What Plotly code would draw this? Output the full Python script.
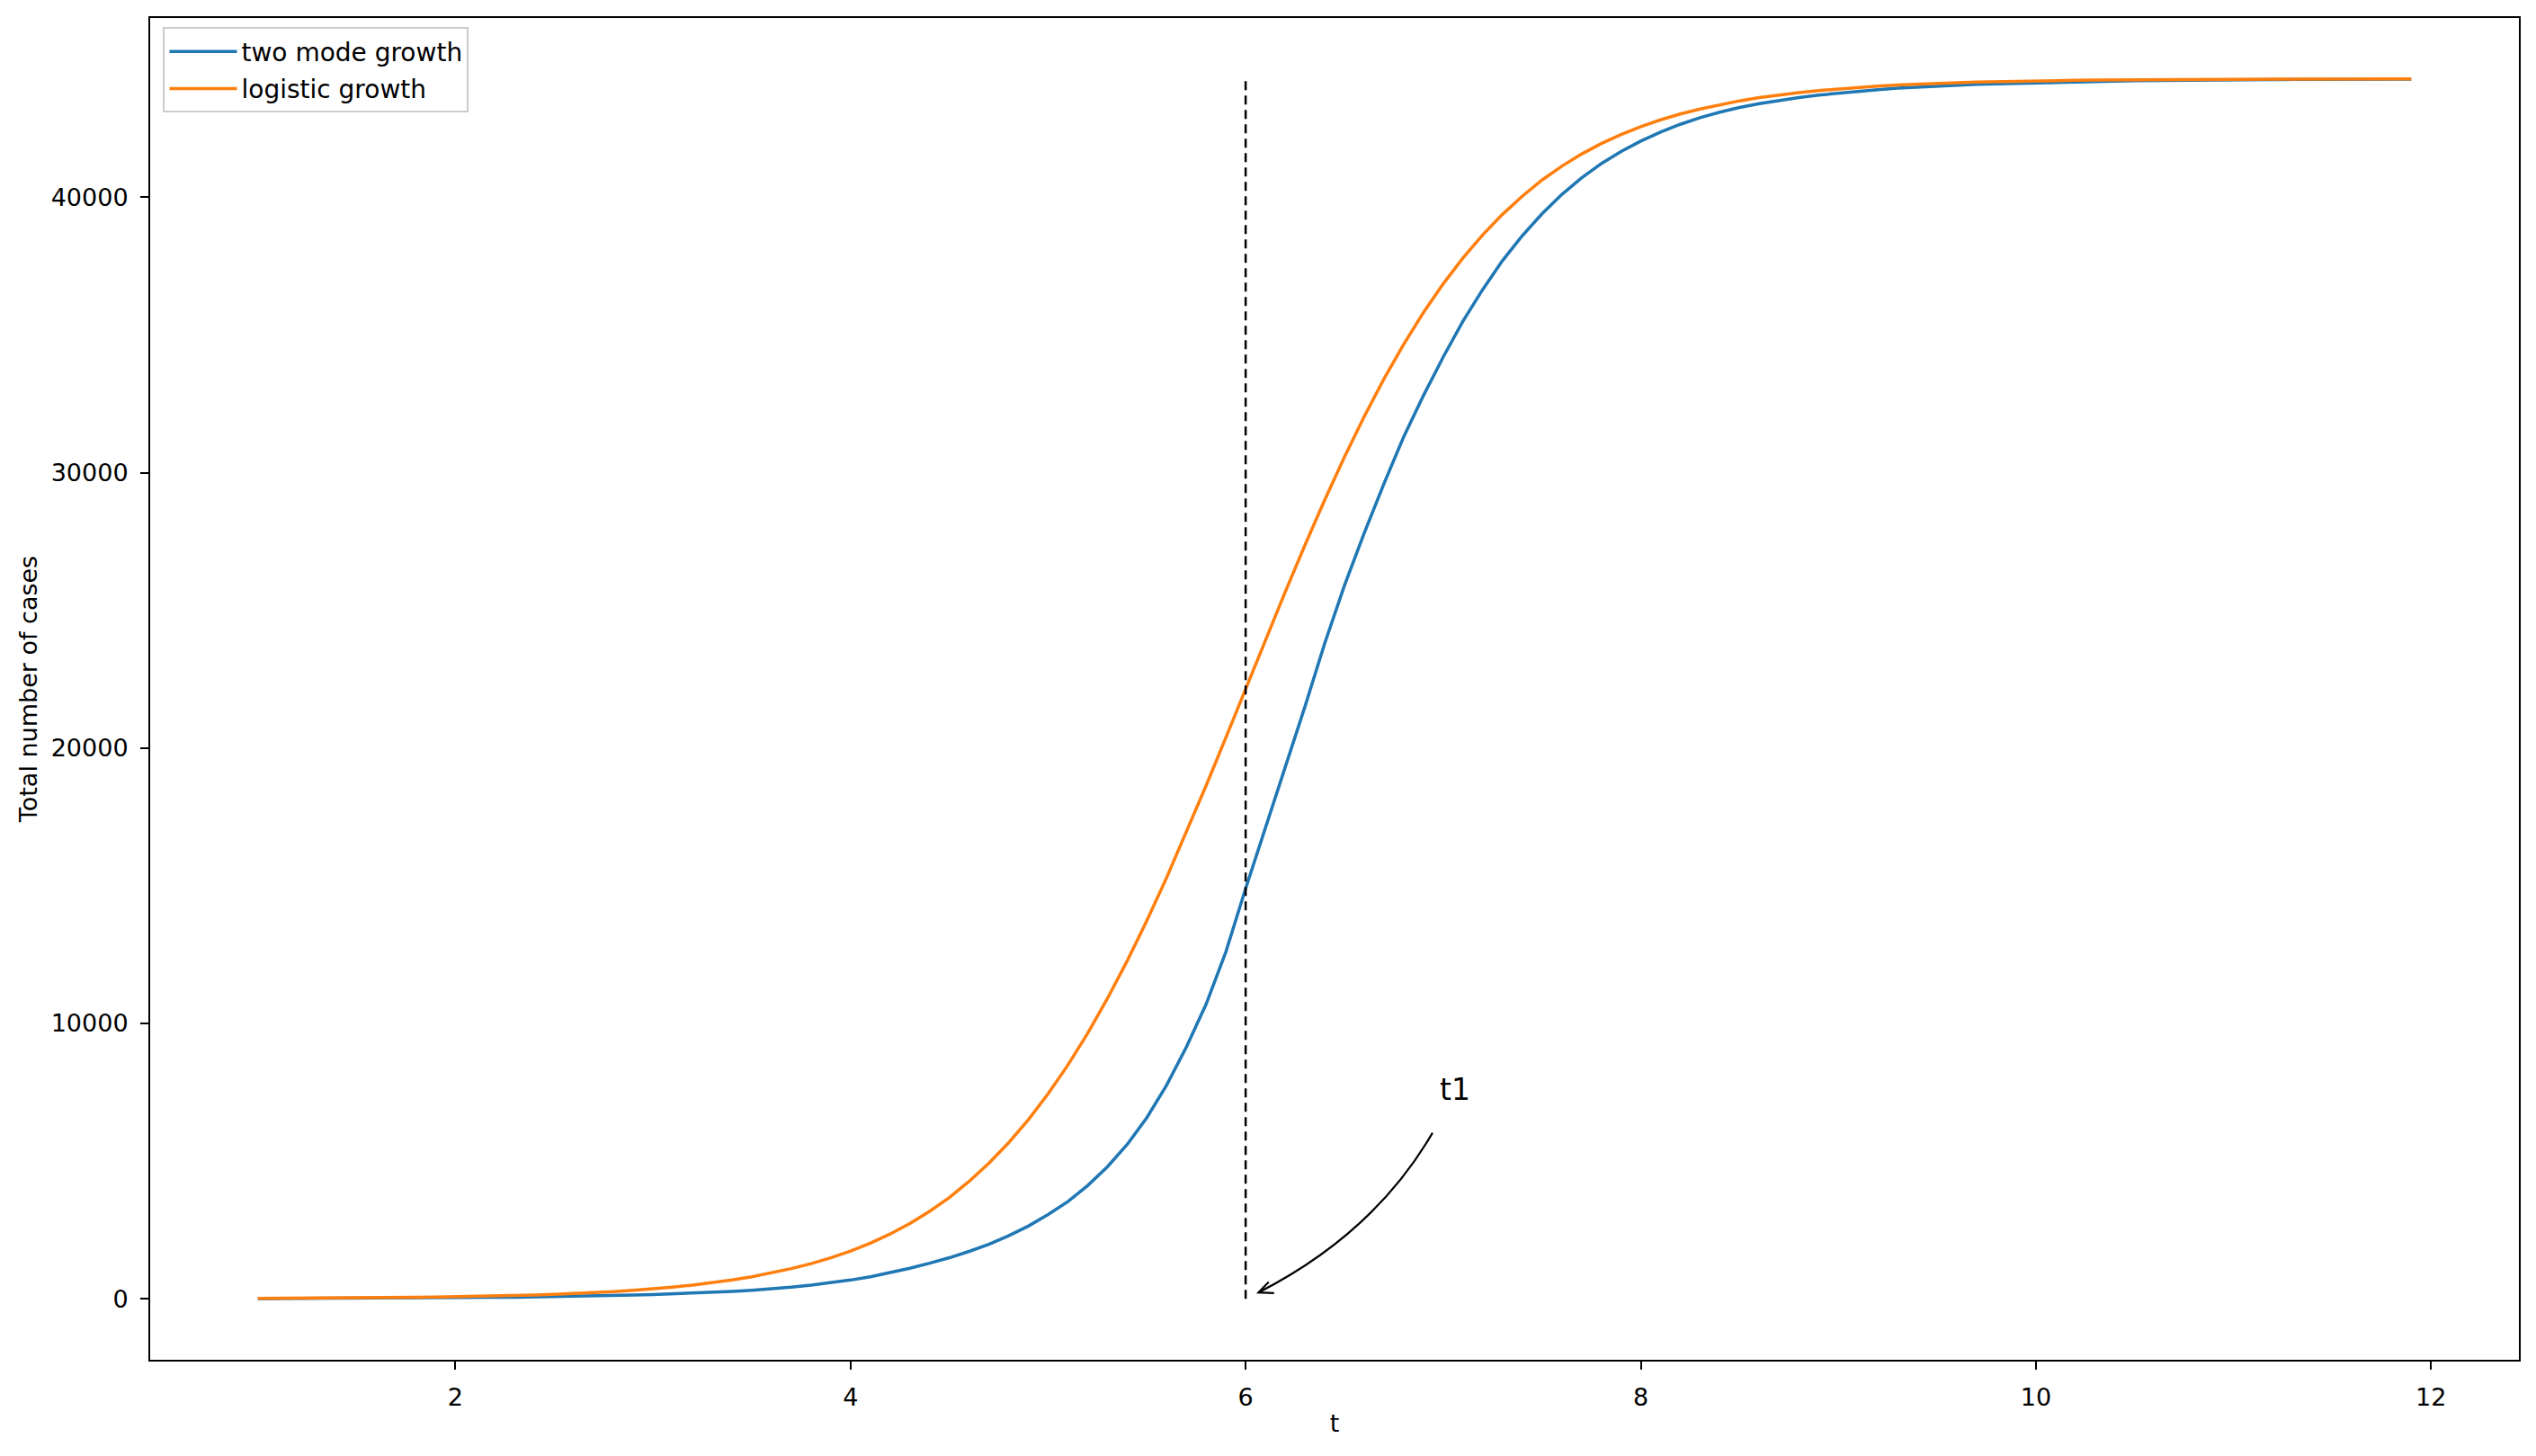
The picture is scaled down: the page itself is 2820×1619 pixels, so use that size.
import plotly.graph_objects as go

# time grid and the two curves
t = [1.0, 1.1, 1.2, 1.3, 1.4, 1.5, 1.6, 1.7, 1.8, 1.9,
     2.0, 2.1, 2.2, 2.3, 2.4, 2.5, 2.6, 2.7, 2.8, 2.9,
     3.0, 3.1, 3.2, 3.3, 3.4, 3.5, 3.6, 3.7, 3.8, 3.9,
     4.0, 4.1, 4.2, 4.3, 4.4, 4.5, 4.6, 4.7, 4.8, 4.9,
     5.0, 5.1, 5.2, 5.3, 5.4, 5.5, 5.6, 5.7, 5.8, 5.9,
     6.0, 6.1, 6.2, 6.3, 6.4, 6.5, 6.6, 6.7, 6.8, 6.9,
     7.0, 7.1, 7.2, 7.3, 7.4, 7.5, 7.6, 7.7, 7.8, 7.9,
     8.0, 8.1, 8.2, 8.3, 8.4, 8.5, 8.6, 8.7, 8.8, 8.9,
     9.0, 9.1, 9.2, 9.3, 9.4, 9.5, 9.6, 9.7, 9.8, 9.9,
     10.0, 10.1, 10.2, 10.3, 10.4, 10.5, 10.6, 10.7, 10.8, 10.9,
     11.0, 11.1, 11.2, 11.3, 11.4, 11.5, 11.6, 11.7, 11.8, 11.9]

two_mode = [10, 11, 13, 14, 17, 19, 22, 25, 29, 33,
            38, 44, 51, 58, 67, 77, 89, 102, 117, 135,
            155, 178, 205, 235, 270, 310, 360, 420, 495, 580,
            680, 800, 950, 1110, 1290, 1490, 1720, 1980, 2290, 2640,
            3060, 3530, 4110, 4790, 5600, 6580, 7760, 9140, 10700, 12600,
            14900, 17100, 19300, 21500, 23800, 25900, 27800, 29600, 31300, 32800,
            34200, 35500, 36650, 37700, 38600, 39400, 40100, 40700, 41220, 41660,
            42040, 42370, 42650, 42890, 43090, 43260, 43400, 43520, 43620, 43710,
            43780, 43850, 43910, 43960, 44000, 44040, 44070, 44100, 44120, 44140,
            44160, 44180, 44195, 44210, 44220, 44230, 44240, 44250, 44255, 44260,
            44265, 44270, 44274, 44278, 44281, 44284, 44287, 44289, 44291, 44293]

logistic = [15, 17, 21, 24, 28, 33, 39, 46, 53, 63,
            74, 86, 101, 119, 139, 163, 191, 225, 263, 309,
            362, 424, 497, 582, 682, 799, 936, 1096, 1274, 1489,
            1735, 2022, 2351, 2733, 3173, 3676, 4262, 4920, 5664, 6503,
            7442, 8485, 9638, 10898, 12266, 13734, 15294, 16934, 18636, 20382,
            22150, 23918, 25664, 27366, 29006, 30566, 32034, 33402, 34662, 35815,
            36858, 37797, 38636, 39380, 40038, 40624, 41127, 41567, 41949, 42278,
            42565, 42811, 43026, 43204, 43364, 43501, 43618, 43718, 43803, 43876,
            43938, 43991, 44037, 44075, 44109, 44137, 44161, 44181, 44199, 44214,
            44226, 44237, 44247, 44254, 44261, 44267, 44272, 44276, 44280, 44283,
            44285, 44287, 44289, 44291, 44292, 44293, 44294, 44295, 44296, 44296]

t1 = 6.0
x_ticks = [2, 4, 6, 8, 10, 12]
y_ticks = [0, 10000, 20000, 30000, 40000]
y_ticklabels = ["0", "10000", "20000", "30000", "40000"]

FONT = "DejaVu Sans"
BLUE = "#1f77b4"
ORANGE = "#ff7f0e"

ymax = max(max(two_mode), max(logistic))
xpad = 0.05 * (t[-1] - t[0])
ypad = 0.05 * ymax

fig = go.Figure()

fig.add_trace(go.Scatter(x=t, y=two_mode, mode="lines", name="two mode growth",
                         legendgroup="a", line=dict(color=BLUE, width=3.5)))
fig.add_trace(go.Scatter(x=t, y=logistic, mode="lines", name="logistic growth",
                         legendgroup="b", line=dict(color=ORANGE, width=3.5)))

# vertical dashed marker at t1
fig.add_trace(go.Scatter(x=[t1, t1], y=[0, ymax], mode="lines", showlegend=False,
                         line=dict(color="black", width=2.5, dash="10px,6px"),
                         hoverinfo="skip"))

# curved arrow pointing to t1 (quadratic bezier like matplotlib arc3)
arrow_start = (6.946, 6026)
arrow_ctrl = (6.651, 2380)
arrow_tip = (6.065, 228)
head_a = (6.144, 206)
head_b = (6.117, 610)

fig.add_shape(type="path", xref="x", yref="y",
              path="M {},{} Q {},{} {},{}".format(*arrow_start, *arrow_ctrl, *arrow_tip),
              line=dict(color="black", width=2.2))
fig.add_shape(type="path", xref="x", yref="y",
              path="M {},{} L {},{} L {},{}".format(*head_a, *arrow_tip, *head_b),
              line=dict(color="black", width=2.2))

fig.add_annotation(x=6.973, y=7600, xref="x", yref="y", text="t1", showarrow=False,
                   xanchor="left", yanchor="middle",
                   font=dict(family=FONT, size=33, color="black"))

axis_common = dict(showline=True, linecolor="black", linewidth=2, mirror=True,
                   ticks="outside", ticklen=9, tickwidth=2, tickcolor="black",
                   showgrid=False, zeroline=False, automargin=False,
                   tickfont=dict(family=FONT, size=27, color="black"))

fig.update_xaxes(range=[t[0] - xpad, t[-1] + xpad], tickvals=x_ticks,
                 ticklabelstandoff=8,
                 title=dict(text="t", font=dict(family=FONT, size=27, color="black"), standoff=5),
                 **axis_common)
fig.update_yaxes(range=[-ypad, ymax + ypad], tickvals=y_ticks, ticktext=y_ticklabels,
                 ticklabelstandoff=8,
                 title=dict(text="Total number of cases", font=dict(family=FONT, size=27, color="black"),
                            standoff=7),
                 **axis_common)

# the page body adds an 8px margin, so the figure is 16px smaller than the window
fig.update_layout(
    width=2804, height=1603,
    margin=dict(l=159, r=11, t=12, b=99),
    plot_bgcolor="white", paper_bgcolor="white",
    font=dict(family=FONT, size=27, color="black"),
    legend=dict(x=0.0055, y=0.993, xanchor="left", yanchor="top",
                bgcolor="rgba(255,255,255,0.8)", bordercolor="#cccccc", borderwidth=2,
                font=dict(family=FONT, size=28, color="black"), itemwidth=75,
                tracegroupgap=2),
    hovermode=False,
)

fig.write_html("out.html")
